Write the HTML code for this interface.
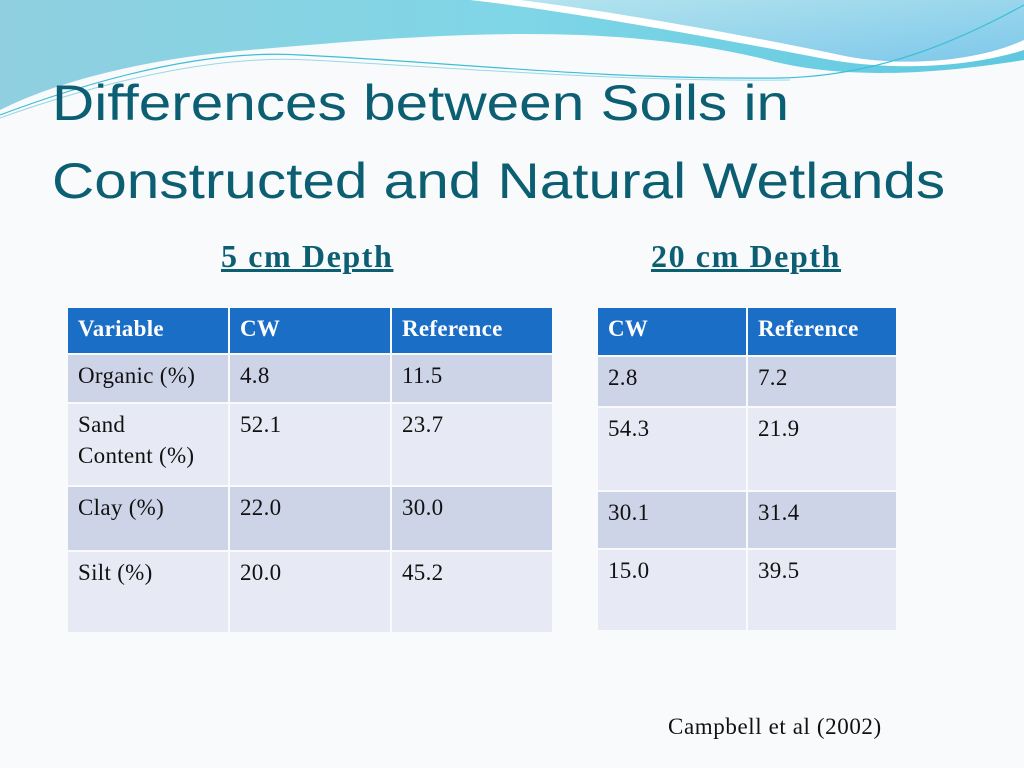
<!DOCTYPE html>
<html><head><meta charset="utf-8"><style>
body{margin:0;width:1024px;height:768px;overflow:hidden;background:#f8fafc;position:relative;font-family:"Liberation Serif",serif}
.t{position:absolute;margin:0}
.cell{position:absolute;box-sizing:border-box;padding:5px 10px;font-size:23px;color:#111;line-height:31px;letter-spacing:0.3px}
.h{background:#1a6ec6;color:#fff;font-weight:bold}
.o{background:#cdd4e8}.e{background:#e7eaf4}
</style></head><body>
<svg width="1024" height="130" style="position:absolute;left:0;top:0">
<defs><linearGradient id="g1" x1="0" y1="0" x2="1" y2="0"><stop offset="0" stop-color="#8fcfe0"/><stop offset="0.5" stop-color="#7fd6e6"/><stop offset="1" stop-color="#5ec8e0"/></linearGradient>
<linearGradient id="g2" x1="0" y1="0" x2="1" y2="1"><stop offset="0" stop-color="#b4e4ee"/><stop offset="1" stop-color="#7ec8ea"/></linearGradient></defs>
<path d="M0,0 H1024 V60 C900,80 820,75 760,58 C600,20 420,35 250,50 C150,58 60,80 0,110 Z" fill="url(#g1)"/>
<path d="M470,0 H1024 V50 C960,70 880,70 820,58 C700,35 560,10 470,0 Z" fill="#fff"/>
<path d="M520,0 H1024 V40 C970,65 890,66 840,55 C720,30 600,10 520,0 Z" fill="url(#g2)"/>
<path d="M0,115 C120,70 220,50 300,55 C450,62 600,80 780,78 C880,76 960,40 1024,5" stroke="#3cbfd8" stroke-width="1.2" fill="none"/>
<path d="M0,118 C120,75 230,55 310,60 C460,68 620,82 790,80" stroke="#9ad8e4" stroke-width="1" fill="none"/>
</svg>
<div class="t" style="left:52px;top:64px;font-family:'Liberation Sans',sans-serif;font-size:50px;line-height:78px;color:#0c5f72;transform:scaleX(1.17);transform-origin:0 0;white-space:nowrap">Differences between Soils in<br>Constructed and Natural Wetlands</div>
<div class="t" style="left:221px;top:238px;font-size:32px;letter-spacing:1.6px;font-weight:bold;color:#0c5f72;text-decoration:underline">5 cm Depth</div>
<div class="t" style="left:651px;top:238px;font-size:32px;letter-spacing:1.6px;font-weight:bold;color:#0c5f72;text-decoration:underline">20 cm Depth</div>
<div id="tables"></div>
<div class="t" style="left:668px;top:714px;font-size:23px;letter-spacing:0.6px;color:#111">Campbell et al (2002)</div>
<script>
const leftCols=[68,230,392,554];
const leftRows=[308,355,404,487,552,634];
const leftData=[["Variable","CW","Reference"],["Organic (%)","4.8","11.5"],["Sand Content (%)","52.1","23.7"],["Clay (%)","22.0","30.0"],["Silt (%)","20.0","45.2"]];
const rightCols=[598,748,898];
const rightRows=[308,357,408,492,550,632];
const rightData=[["CW","Reference"],["2.8","7.2"],["54.3","21.9"],["30.1","31.4"],["15.0","39.5"]];
function build(cols,rows,data,name){
 const root=document.getElementById('tables');
 data.forEach((r,i)=>r.forEach((v,j)=>{
  const d=document.createElement('div');
  
  
  d.className='cell '+(i==0?'h':(i%2?'o':'e'));
  d.style.left=cols[j]+'px';d.style.top=rows[i]+'px';
  d.style.width=(cols[j+1]-cols[j]-2)+'px';d.style.height=(rows[i+1]-rows[i]-2)+'px';
  if(v==="Sand Content (%)")d.innerHTML="Sand<br>Content (%)";else d.textContent=v;
  root.appendChild(d);
 }));
}
build(leftCols,leftRows,leftData,'table-5cm');
build(rightCols,rightRows,rightData,'table-20cm');
</script>
</body></html>
